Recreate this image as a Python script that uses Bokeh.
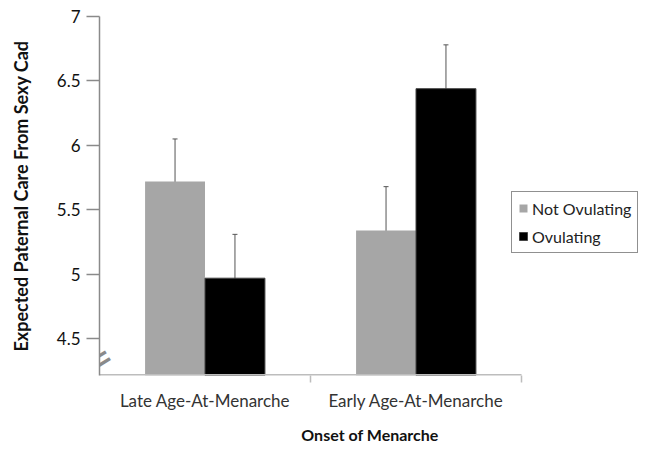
from bokeh.plotting import figure
from bokeh.models import (ColumnDataSource, Range1d, FixedTicker, Legend, LegendItem,
                          Whisker, TeeHead, Label)
from bokeh.embed import file_html
from bokeh.resources import INLINE
import numpy as np

categories = ["Late Age-At-Menarche", "Early Age-At-Menarche"]
series_names = ["Not Ovulating", "Ovulating"]
not_ovulating = [5.72, 5.34]
ovulating = [4.97, 6.44]
err_not_ovulating = [0.33, 0.34]
err_ovulating = [0.34, 0.34]
y_ticks = [4.5, 5, 5.5, 6, 6.5, 7]

FONT = "Lato"
Y0 = 4.215
BAR_W = 0.284
N = len(categories)

centers = np.arange(N) + 0.5
x_not = centers - BAR_W / 2
x_ovu = centers + BAR_W / 2

src_not = ColumnDataSource(dict(
    x=x_not, top=not_ovulating,
    lower=np.array(not_ovulating) - np.array(err_not_ovulating),
    upper=np.array(not_ovulating) + np.array(err_not_ovulating)))
src_ovu = ColumnDataSource(dict(
    x=x_ovu, top=ovulating,
    lower=np.array(ovulating) - np.array(err_ovulating),
    upper=np.array(ovulating) + np.array(err_ovulating)))

# frame spans the full right side so the legend is not clipped;
# the category axis itself covers 0..N
p = figure(width=640, height=448, output_backend="svg", toolbar_location=None,
           x_range=Range1d(0, N * 541 / 422), y_range=Range1d(Y0, 7.0),
           min_border_left=99, min_border_right=0, min_border_top=16,
           min_border_bottom=73)
p.outline_line_color = None
p.xgrid.visible = False
p.ygrid.visible = False
p.background_fill_color = "white"

r_not = p.vbar(x="x", top="top", bottom=Y0, width=BAR_W, source=src_not,
               fill_color="#a6a6a6", line_color=None)
r_ovu = p.vbar(x="x", top="top", bottom=Y0, width=BAR_W, source=src_ovu,
               fill_color="#000000", line_color="#444444", line_width=1)

for src in (src_not, src_ovu):
    w = Whisker(source=src, base="x", lower="lower", upper="upper",
                line_color="#555555", line_width=1,
                upper_head=TeeHead(size=5, line_color="#555555", line_width=1),
                lower_head=TeeHead(size=5, line_color="#555555", line_width=1))
    p.add_layout(w)

# visible category axis line (0..N)
p.segment(x0=[0], y0=[Y0], x1=[N], y1=[Y0], line_color="#bdbdbd", line_width=3)

# y axis
ya = p.yaxis[0]
ya.ticker = FixedTicker(ticks=y_ticks)
ya.axis_line_color = "#8a8a8a"
ya.axis_line_width = 1.5
ya.major_tick_line_color = "#8a8a8a"
ya.major_tick_line_width = 1.5
ya.major_tick_out = 13
ya.major_tick_in = 0
ya.minor_tick_line_color = None
ya.major_label_standoff = 6
ya.major_label_text_font = FONT
ya.major_label_text_font_size = "17px"
ya.major_label_text_color = "#111111"
ya.axis_label = "Expected Paternal Care From Sexy Cad"
ya.axis_label_text_font = FONT
ya.axis_label_text_font_style = "bold"
ya.axis_label_text_font_size = "18px"
ya.axis_label_text_color = "#111111"
ya.axis_label_standoff = 22

# x axis (line hidden, boundary ticks as minor ticks)
xa = p.xaxis[0]
xa.ticker = FixedTicker(ticks=list(centers), minor_ticks=list(range(1, N + 1)))
xa.major_label_overrides = {float(c): lab for c, lab in zip(centers, categories)}
xa.axis_line_color = None
xa.major_tick_line_color = None
xa.major_tick_out = 0
xa.major_tick_in = 0
xa.minor_tick_line_color = "#bdbdbd"
xa.minor_tick_line_width = 1.5
xa.minor_tick_out = 7
xa.minor_tick_in = 0
xa.major_label_standoff = 7
xa.major_label_text_font = FONT
xa.major_label_text_font_size = "17px"
xa.major_label_text_color = "#333333"
xa.axis_label = "Onset of Menarche"
xa.axis_label_text_font = FONT
xa.axis_label_text_font_style = "bold"
xa.axis_label_text_font_size = "16px"
xa.axis_label_text_color = "#111111"
xa.axis_label_standoff = 11

# axis break mark
brk = Label(x=0, y=4.33, x_units="data", y_units="data", text="=",
            x_offset=-3, text_font="DejaVu Sans", text_font_size="40px",
            text_color="#8a8a8a", angle=0.55, text_align="center",
            text_baseline="middle")
p.add_layout(brk)

legend = Legend(items=[LegendItem(label=series_names[0], renderers=[r_not]),
                       LegendItem(label=series_names[1], renderers=[r_ovu])],
                location=(412, 122), orientation="vertical")
legend.border_line_color = "#222222"
legend.border_line_width = 1
legend.background_fill_color = "white"
legend.background_fill_alpha = 1
legend.label_text_font = FONT
legend.label_text_font_size = "16px"
legend.label_text_color = "#222222"
legend.glyph_width = 10
legend.glyph_height = 10
legend.label_height = 20
legend.label_standoff = 4
legend.spacing = 8
legend.padding = 6
legend.margin = 0
p.add_layout(legend, "center")

open("out.html", "w").write(file_html(p, INLINE))
